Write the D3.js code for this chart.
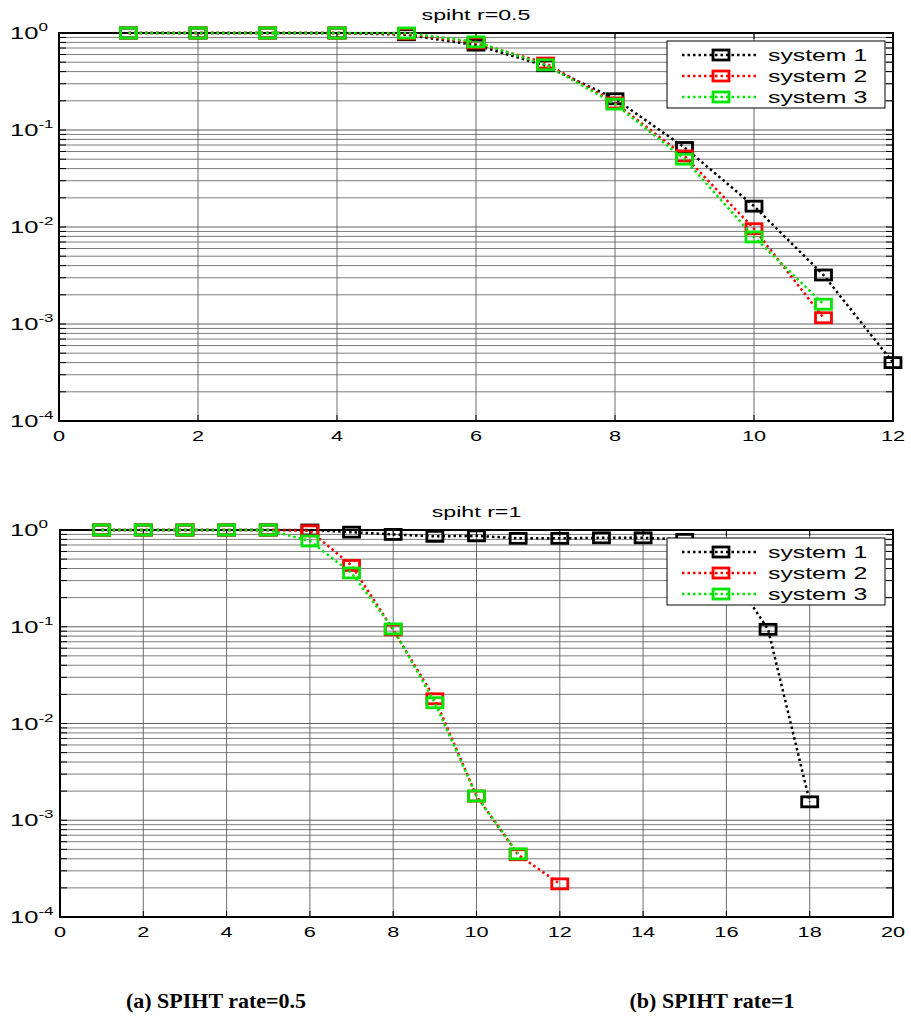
<!DOCTYPE html>
<html>
<head>
  <script src="https://d3js.org/d3.v7.min.js"></script>
  <style>
    body { margin: 0; background: #fff; }
  </style>
</head>
<body>
  <div id="chart"></div>
  <script>

  // x positions
  var xTop = d3.range(1, 13);
  var xBot = d3.range(1, 19);

  // panel (a): spiht r=0.5
  var topSys1 = [1, 1, 1, 1, 0.96, 0.75, 0.46, 0.21, 0.066, 0.0164, 0.0032, 0.0004];
  var topSys2 = [1, 1, 1, 1, 0.98, 0.79, 0.49, 0.19, 0.054, 0.0096, 0.00116];
  var topSys3 = [1, 1, 1, 1, 1, 0.81, 0.47, 0.185, 0.050, 0.0079, 0.0016];

  // panel (b): spiht r=1
  var botSys1 = [1, 1, 1, 1, 1, 1, 0.95, 0.90, 0.86, 0.87, 0.82, 0.82, 0.83, 0.83, 0.80, 0.42, 0.094, 0.00155];
  var botSys2 = [1, 1, 1, 1, 1, 0.98, 0.43, 0.093, 0.018, 0.00178, 0.00044, 0.00022];
  var botSys3 = [1, 1, 1, 1, 1, 0.77, 0.36, 0.095, 0.0164, 0.00178, 0.00045];

  var seriesNames = ["system 1", "system 2", "system 3"];
  var seriesColors = ["#000000", "#ff0000", "#00e600"];
  var decades = [1, 0.1, 0.01, 0.001, 0.0001];
  var decadeExp = ["0", "-1", "-2", "-3", "-4"];
  var captions = ["(a) SPIHT rate=0.5", "(b) SPIHT rate=1"];

  var width = 911, height = 1019;
  var stretch = 1.6;

  var svg = d3.select("#chart").append("svg")
    .attr("width", width)
    .attr("height", height)
    .style("font-family", "'Liberation Sans', Arial, sans-serif");

  // text squeezed wide like the source image
  function wideText(g, x, y, str, size, anchor, k) {
    return g.append("text")
      .attr("transform", "translate(" + x + "," + y + ") scale(" + (k || stretch) + ",1)")
      .attr("text-anchor", anchor || "start")
      .style("font-size", size + "px")
      .text(str);
  }

  function drawPanel(cfg) {
    var g = svg.append("g");

    var x = d3.scaleLinear().domain([0, cfg.xMax]).range([cfg.left, cfg.right]);
    var y = d3.scaleLog().domain([1e-4, 1]).range([cfg.bottom, cfg.top]);

    // grid lines
    var minor = [];
    decades.slice(1).forEach(function(d) {
      for (var m = 1; m < 10; m++) minor.push(d * m);
    });
    g.selectAll(".hgrid")
      .data(minor)
      .enter().append("line")
      .attr("x1", cfg.left).attr("x2", cfg.right)
      .attr("y1", function(d) { return y(d); })
      .attr("y2", function(d) { return y(d); })
      .attr("stroke", function(d, i) { return i % 9 === 0 ? "#444" : "#666"; })
      .attr("stroke-opacity", 0.85)
      .attr("stroke-width", 1);

    var xt = d3.range(0, cfg.xMax + 1, 2);
    g.selectAll(".vgrid")
      .data(xt)
      .enter().append("line")
      .attr("x1", function(d) { return x(d); })
      .attr("x2", function(d) { return x(d); })
      .attr("y1", cfg.top).attr("y2", cfg.bottom)
      .attr("stroke", "#555")
      .attr("stroke-opacity", 0.85)
      .attr("stroke-width", 1);

    // small inner ticks
    minor.forEach(function(d) {
      g.append("line").attr("x1", cfg.left).attr("x2", cfg.left + 7)
        .attr("y1", y(d)).attr("y2", y(d)).attr("stroke", "#000");
      g.append("line").attr("x1", cfg.right - 7).attr("x2", cfg.right)
        .attr("y1", y(d)).attr("y2", y(d)).attr("stroke", "#000");
    });
    xt.forEach(function(d) {
      g.append("line").attr("x1", x(d)).attr("x2", x(d))
        .attr("y1", cfg.bottom).attr("y2", cfg.bottom - 6).attr("stroke", "#000");
      g.append("line").attr("x1", x(d)).attr("x2", x(d))
        .attr("y1", cfg.top).attr("y2", cfg.top + 6).attr("stroke", "#000");
    });

    // frame
    g.append("rect")
      .attr("x", cfg.left).attr("y", cfg.top)
      .attr("width", cfg.right - cfg.left)
      .attr("height", cfg.bottom - cfg.top)
      .attr("fill", "none")
      .attr("stroke", "#000")
      .attr("stroke-width", 2);

    // y tick labels 10^k
    decades.forEach(function(d, i) {
      var t = g.append("text")
        .attr("transform", "translate(10," + (y(d) + 6) + ") scale(1.55,1)")
        .style("font-size", "16.5px");
      t.append("tspan").text("10");
      t.append("tspan").attr("dy", -8).style("font-size", "11px").text(decadeExp[i]);
    });

    // x tick labels
    xt.forEach(function(d) {
      wideText(g, x(d), cfg.bottom + 20, d, 15, "middle", 1.45);
    });

    // title
    wideText(g, (cfg.left + cfg.right) / 2, cfg.top - 13, cfg.title, 14.5, "middle", 1.6);

    // series
    var line = d3.line()
      .x(function(d) { return x(d.x); })
      .y(function(d) { return y(d.v); });

    cfg.series.forEach(function(vals, si) {
      var pts = vals.map(function(v, i) { return { x: cfg.xs[i], v: v }; });
      g.append("path")
        .datum(pts)
        .attr("d", line)
        .attr("fill", "none")
        .attr("stroke", seriesColors[si])
        .attr("stroke-width", 2.5)
        .attr("stroke-dasharray", "2.5,3");
      g.selectAll(".m" + si)
        .data(pts)
        .enter().append("rect")
        .attr("x", function(d) { return x(d.x) - 8; })
        .attr("y", function(d) { return y(d.v) - 5; })
        .attr("width", 16)
        .attr("height", 10)
        .attr("fill", "none")
        .attr("stroke", seriesColors[si])
        .attr("stroke-width", 2.8);
    });

    // legend
    var lg = g.append("g");
    lg.append("rect")
      .attr("x", cfg.legX).attr("y", cfg.legY)
      .attr("width", 218).attr("height", 67)
      .attr("fill", "#fff")
      .attr("stroke", "#000")
      .attr("stroke-width", 1);
    seriesNames.forEach(function(name, si) {
      var ry = cfg.legY + 14 + si * 21;
      lg.append("line")
        .attr("x1", cfg.legX + 15).attr("x2", cfg.legX + 90)
        .attr("y1", ry).attr("y2", ry)
        .attr("stroke", seriesColors[si])
        .attr("stroke-width", 2.5)
        .attr("stroke-dasharray", "2.5,3");
      lg.append("rect")
        .attr("x", cfg.legX + 46).attr("y", ry - 5)
        .attr("width", 16).attr("height", 10)
        .attr("fill", "none")
        .attr("stroke", seriesColors[si])
        .attr("stroke-width", 2.8);
      wideText(lg, cfg.legX + 101, ry + 6, name, 16, "start", 1.55);
    });
  }

  drawPanel({
    title: "spiht r=0.5",
    xMax: 12, left: 59, right: 893, top: 33, bottom: 421,
    xs: xTop, series: [topSys1, topSys2, topSys3],
    legX: 667, legY: 41
  });

  drawPanel({
    title: "spiht r=1",
    xMax: 20, left: 60, right: 893, top: 530, bottom: 917,
    xs: xBot, series: [botSys1, botSys2, botSys3],
    legX: 667, legY: 538
  });

  // captions
  svg.selectAll(".caption")
    .data(captions)
    .enter().append("text")
    .attr("x", function(d, i) { return i === 0 ? 216 : 712; })
    .attr("y", 1008)
    .attr("text-anchor", "middle")
    .style("font-family", "'Liberation Serif', 'Times New Roman', serif")
    .style("font-weight", "bold")
    .style("font-size", "22px")
    .text(function(d) { return d; });

  </script>
</body>
</html>
